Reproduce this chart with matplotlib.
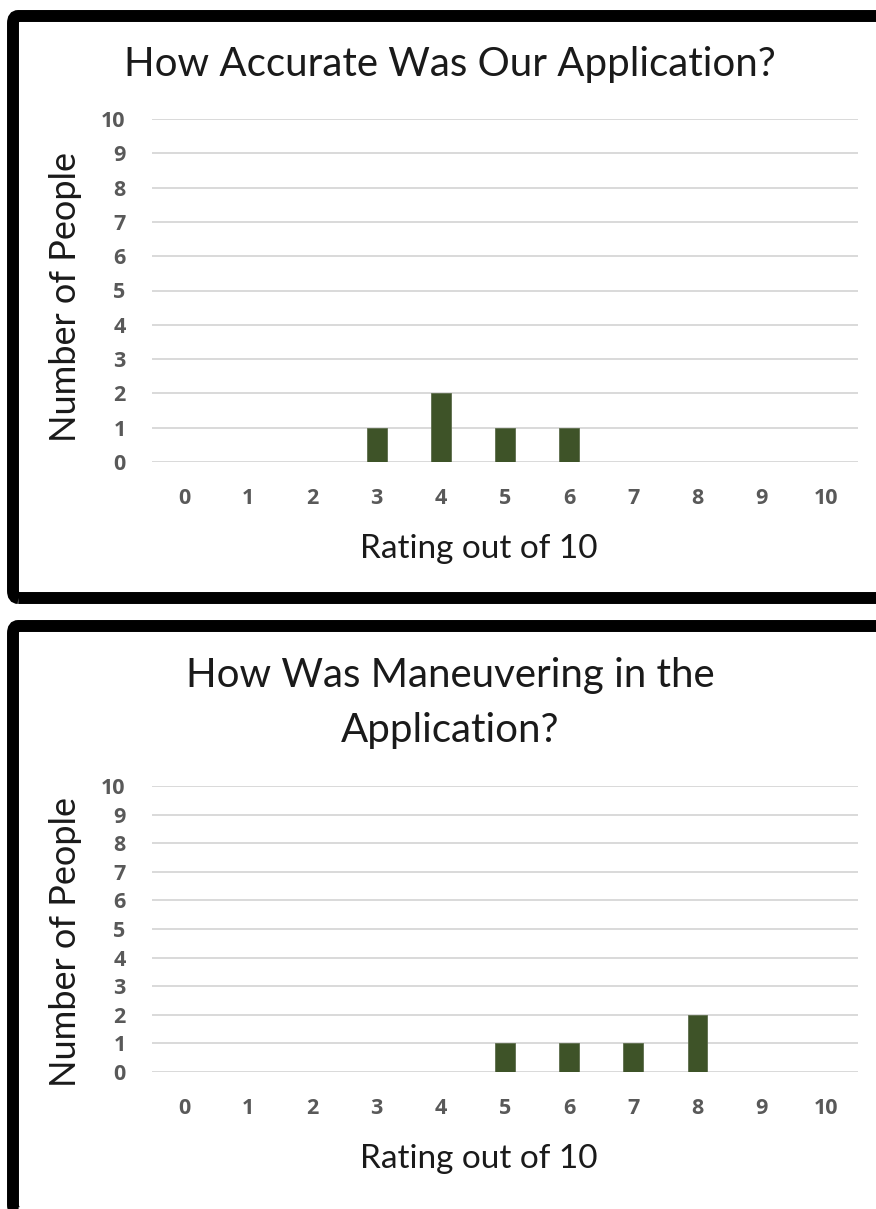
import matplotlib
matplotlib.use('Agg')
import matplotlib.pyplot as plt
from matplotlib.patches import FancyBboxPatch

# survey results, ratings 0-10
ratings = list(range(11))
accuracy_counts = [0, 0, 0, 1, 2, 1, 1, 0, 0, 0, 0]
maneuver_counts = [0, 0, 0, 0, 0, 1, 1, 1, 2, 0, 0]
titles = [['How Accurate Was Our Application?'],
          ['How Was Maneuvering in the', 'Application?']]
x_label = 'Rating out of 10'
y_label = 'Number of People'

W, H = 876, 1209
BAR = '#3e5328'
TICK = '#595959'
GRID = '#d9d9d9'
TEXT_FONT = ['Lato', 'DejaVu Sans']

fig = plt.figure(figsize=(W / 100, H / 100), dpi=100)
fig.patch.set_facecolor('white')


def px_box(left, top, right, bottom):
    return [left / W, 1 - bottom / H, (right - left) / W, (bottom - top) / H]


def panel_border(top, bottom):
    # thick black frame around each chart (runs off the right edge)
    fig.add_artist(FancyBboxPatch((13 / W, 1 - bottom / H), 900 / W, (bottom - top) / H,
                                  boxstyle='round,pad=0,rounding_size=0.006',
                                  transform=fig.transFigure, facecolor='none',
                                  edgecolor='black', linewidth=8.6, zorder=10))


def draw_title(lines, first_baseline, step=55):
    for i, line in enumerate(lines):
        fig.text(450 / W, 1 - (first_baseline + i * step) / H, line,
                 ha='center', va='baseline', fontsize=29, family=TEXT_FONT,
                 color='#1a1a1a')


def draw_chart(box, counts, xlabel_y, ylabel_y):
    ax = fig.add_axes(box)
    ax.bar(ratings, counts, width=0.31, color=BAR, edgecolor='#5d6d4c',
           linewidth=0.6, zorder=3)
    ax.set_xlim(-0.5, 10.5)
    ax.set_ylim(0, 10)
    ax.set_xticks(ratings)
    ax.set_yticks(range(11))
    ax.yaxis.grid(True, color=GRID, linewidth=1.4, zorder=0)
    ax.set_axisbelow(True)
    for s in ax.spines.values():
        s.set_visible(False)
    ax.tick_params(axis='both', length=0, labelsize=15.5, labelcolor=TICK)
    ax.tick_params(axis='x', pad=19)
    ax.tick_params(axis='y', pad=19)
    for lab in ax.get_xticklabels() + ax.get_yticklabels():
        lab.set_fontfamily(['Open Sans', 'DejaVu Sans'])
        lab.set_fontweight('bold')
    ax.set_xlabel(x_label, fontsize=24, family=TEXT_FONT, color='#1a1a1a')
    ax.xaxis.set_label_coords(0.463, xlabel_y)
    ax.xaxis.label.set_verticalalignment('baseline')
    ax.set_ylabel(y_label, fontsize=26, family=TEXT_FONT, color='#1a1a1a')
    ax.yaxis.set_label_coords(-0.123, ylabel_y)
    ax.yaxis.label.set_verticalalignment('center')
    return ax


# top chart
panel_border(16, 598)
draw_chart(px_box(152, 119, 858, 462), accuracy_counts, -0.28, 0.481)
draw_title(titles[0], 76)

# bottom chart
panel_border(626, 1212)
draw_chart(px_box(152, 786, 858, 1072), maneuver_counts, -0.336, 0.455)
draw_title(titles[1], 687)

fig.savefig('out.png', dpi=100, facecolor='white')
